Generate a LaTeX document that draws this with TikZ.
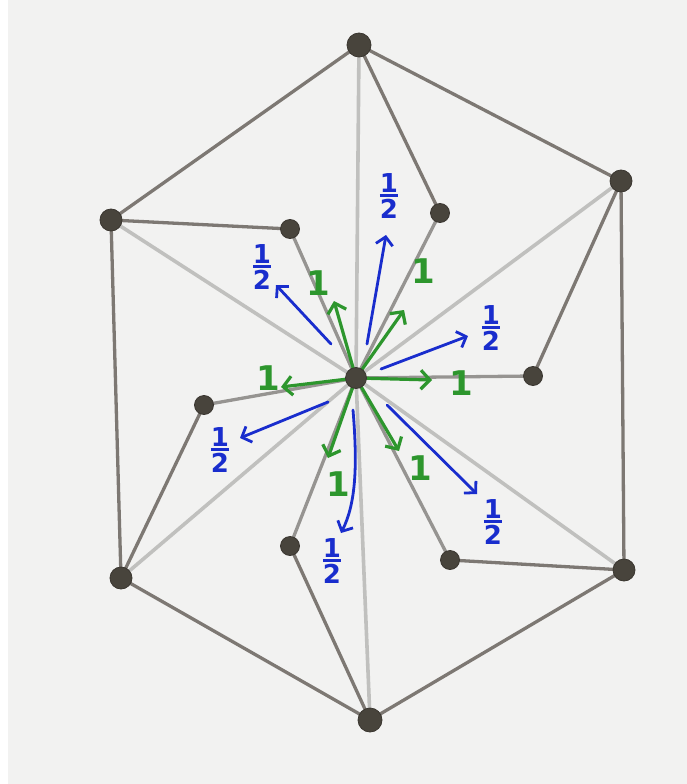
\documentclass[tikz,border=0pt]{standalone}
\usepackage{fontspec}
\newfontfamily\lblfont{DejaVu Sans}
\usetikzlibrary{arrows.meta}
\definecolor{paper}{RGB}{242,242,241}
\definecolor{dotc}{RGB}{72,68,60}
\definecolor{edgedark}{RGB}{125,120,115}
\definecolor{edgemid}{RGB}{150,148,145}
\definecolor{edgelight}{RGB}{192,192,190}
\definecolor{grn}{RGB}{45,150,45}
\definecolor{blu}{RGB}{25,45,205}
\tikzset{
  vert/.style={circle,fill=dotc,draw=dotc!80!black,line width=0.8pt,inner sep=0pt,minimum size=19pt},
  cvert/.style={vert,minimum size=21pt},
  outeredge/.style={draw=edgedark,line width=3.3pt,line cap=round},
  hubedge/.style={draw=edgelight,line width=3.6pt,line cap=round},
  spokeedge/.style={draw=edgemid,line width=3.3pt,line cap=round},
  greenarrow/.style={draw=grn,line width=3.2pt,line cap=round,-{Straight Barb[length=9pt,width=19pt,line width=3.2pt]}},
  bluearrow/.style={draw=blu,line width=2.8pt,line cap=round,-{Straight Barb[length=8pt,width=17pt,line width=2.8pt]}},
  onelbl/.style={text=grn,font=\lblfont\bfseries\fontsize{34}{34}\selectfont,inner sep=0pt},
  halflbl/.style={text=blu,font=\lblfont\bfseries\fontsize{26}{26}\selectfont,inner sep=0pt}
}
\newcommand{\myhalf}{\vbox{\halign{\hfil##\hfil\cr 1\cr\noalign{\kern2pt\hrule height 2.8pt\kern2pt}2\cr}}}
\begin{document}
\begin{tikzpicture}[x=1pt,y=-1pt]
\useasboundingbox (0,0) rectangle (687,784);
\fill[white] (0,0) rectangle (687,784);
\fill[paper] (8,0) rectangle (687,784);
% coordinates
\coordinate (pO1) at (359,45);
\coordinate (pO2) at (621,181);
\coordinate (pO3) at (624,570);
\coordinate (pO4) at (370,720);
\coordinate (pO5) at (121,578);
\coordinate (pO6) at (111,220);
\coordinate (pC) at (356,378);
\coordinate (pI1) at (290,229);
\coordinate (pI2) at (440,213);
\coordinate (pI3) at (533,376);
\coordinate (pI4) at (450,560);
\coordinate (pI5) at (290,546);
\coordinate (pI6) at (204,405);
% hub edges (light)
\foreach \o in {pO1,pO2,pO3,pO4,pO5,pO6} \draw[hubedge] (pC) -- (\o);
% outer hexagon
\draw[outeredge] (pO1) -- (pO2) -- (pO3) -- (pO4) -- (pO5) -- (pO6) -- cycle;
% inner spokes
\foreach \i in {pI1,pI2,pI3,pI4,pI5,pI6} \draw[spokeedge] (pC) -- (\i);
% inner to outer
\draw[outeredge] (pI1) -- (pO6);
\draw[outeredge] (pI2) -- (pO1);
\draw[outeredge] (pI3) -- (pO2);
\draw[outeredge] (pI4) -- (pO3);
\draw[outeredge] (pI5) -- (pO4);
\draw[outeredge] (pI6) -- (pO5);
% vertices
\node[vert,minimum size=24pt] (O1) at (pO1) {};
\node[vert,minimum size=22pt] (O2) at (pO2) {};
\node[vert,minimum size=22pt] (O3) at (pO3) {};
\node[vert,minimum size=24pt] (O4) at (pO4) {};
\node[vert,minimum size=22pt] (O5) at (pO5) {};
\node[vert,minimum size=22pt] (O6) at (pO6) {};
\node[vert] (I1) at (pI1) {};
\node[vert] (I2) at (pI2) {};
\node[vert] (I3) at (pI3) {};
\node[vert] (I4) at (pI4) {};
\node[vert] (I5) at (pI5) {};
\node[vert] (I6) at (pI6) {};
% green arrow tips
\coordinate (g1) at (334,301);
\coordinate (g2) at (404,310);
\coordinate (g3) at (432,380);
\coordinate (g4) at (399,451);
\coordinate (g5) at (328,458);
\coordinate (g6) at (281,387);
\foreach \g in {g1,g2,g3,g4,g5,g6} \draw[greenarrow] (pC) -- (\g);
\node[cvert] (C) at (pC) {};
% green labels
\node[onelbl] (l1) at (318,283) {1};
\node[onelbl] (l2) at (423,271) {1};
\node[onelbl] (l3) at (461,383) {1};
\node[onelbl] (l4) at (420,468) {1};
\node[onelbl] (l5) at (338,484) {1};
\node[onelbl] (l6) at (268,378) {1};
% blue arrows
\coordinate (b1s) at (367,344);
\coordinate (b1t) at (386,235);
\coordinate (b2s) at (331,344);
\coordinate (b2t) at (276,285);
\coordinate (b3s) at (381,369);
\coordinate (b3t) at (468,336);
\coordinate (b4s) at (387,405);
\coordinate (b4t) at (477,494);
\coordinate (b5s) at (353,410);
\coordinate (b5t) at (341,533);
\coordinate (b6s) at (328,402);
\coordinate (b6t) at (240,438);
\draw[bluearrow] (b1s) -- (b1t);
\draw[bluearrow] (b2s) -- (b2t);
\draw[bluearrow] (b3s) -- (b3t);
\draw[bluearrow] (b4s) -- (b4t);
\draw[bluearrow] (b5s) .. controls (358,470) and (355,505) .. (b5t);
\draw[bluearrow] (b6s) -- (b6t);
% blue labels
\node[halflbl] (h1) at (389,196) {\myhalf};
\node[halflbl] (h2) at (262,267) {\myhalf};
\node[halflbl] (h3) at (491,328) {\myhalf};
\node[halflbl] (h4) at (493,522) {\myhalf};
\node[halflbl] (h5) at (332,561) {\myhalf};
\node[halflbl] (h6) at (220,450) {\myhalf};
\end{tikzpicture}
\end{document}
